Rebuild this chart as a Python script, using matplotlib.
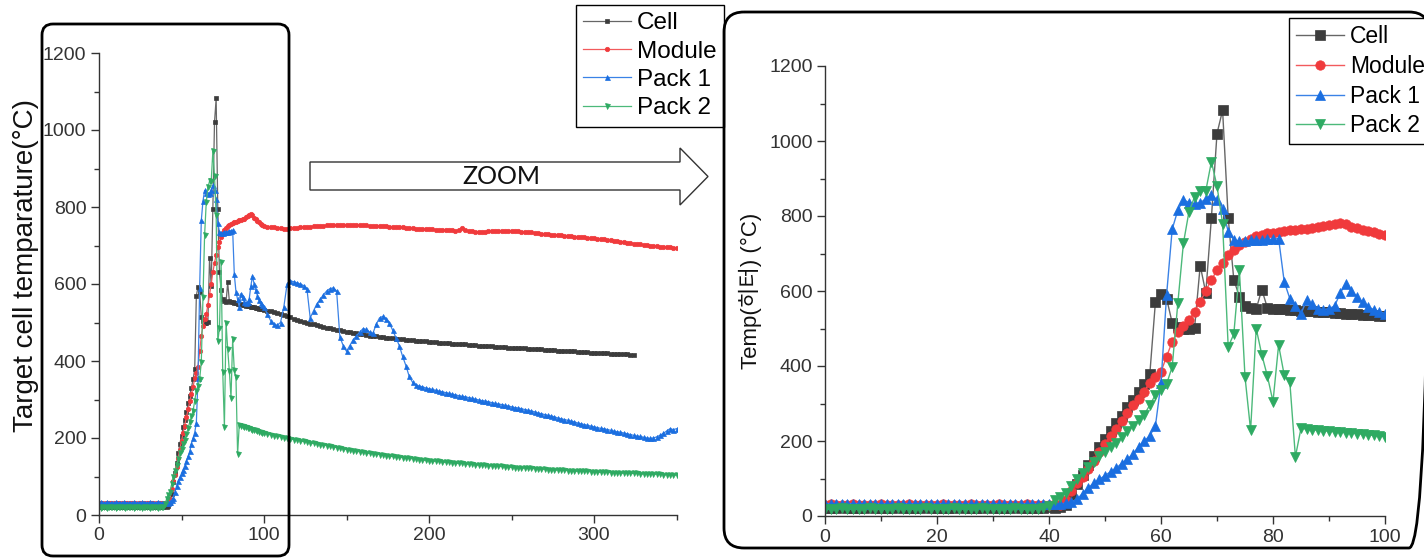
import numpy as np
import matplotlib
matplotlib.use('Agg')
import matplotlib.pyplot as plt
from matplotlib.patches import FancyBboxPatch, Polygon
from matplotlib.ticker import MultipleLocator

plt.rcParams['font.family'] = ['Liberation Sans', 'Noto Sans CJK KR', 'DejaVu Sans']

# ---------------- data ----------------
time_fine = np.arange(0, 101)          # 0..100 s, 1 s step
time_tail = np.arange(102, 351, 2)     # 102..350 s, 2 s step

series_names = ['Cell', 'Module', 'Pack 1', 'Pack 2']

cell_fine = [22, 21, 22, 23, 22, 21, 22, 22, 23, 22,
             21, 22, 22, 23, 22, 22, 21, 22, 23, 22,
             22, 21, 22, 22, 23, 22, 21, 22, 22, 23,
             22, 22, 21, 22, 23, 22, 22, 21, 22, 22,
             23, 22, 24,
             30, 55, 85, 110, 135, 160, 185, 205, 228, 248, 268, 290, 310, 330, 352, 378,
             570, 592, 580, 515, 505, 500, 500, 502, 668, 595, 795, 1020, 1082, 795, 630,
             585, 560, 556, 552, 604, 555, 553, 552, 551, 550, 549, 548, 547, 546, 545,
             544, 543, 542, 541, 540, 539, 538, 537, 536, 535, 534, 533]
cell_tail = [531, 529, 527, 525, 522, 519, 516, 513, 510, 507,
             504, 502, 499, 497, 495, 493, 491, 489, 487, 485,
             483, 481, 480, 478, 476, 475, 473, 472, 470, 469,
             468, 466, 465, 464, 463, 462, 461, 460, 459, 458,
             457, 456, 455, 455, 454, 453, 452, 451, 451, 450,
             449, 449, 448, 447, 447, 446, 445, 445, 444, 443,
             443, 442, 442, 441, 440, 440, 439, 439, 438, 437,
             437, 436, 436, 435, 435, 434, 434, 433, 433, 432,
             431, 431, 430, 430, 429, 429, 428, 428, 427, 427,
             426, 426, 425, 425, 424, 424, 423, 423, 422, 422,
             421, 421, 420, 420, 419, 419, 418, 418, 417, 417,
             416, 416]

module_fine = [30, 31, 30, 29, 30, 31, 30, 30, 29, 30,
               31, 30, 30, 29, 30, 31, 30, 30, 29, 30,
               30, 31, 30, 29, 30, 30, 31, 30, 29, 30,
               30, 31, 30, 30, 29, 30, 31, 30, 30, 29,
               30, 31, 30,
               42, 68, 88, 105, 125, 148, 170, 193, 213, 232, 254, 275, 295, 313, 332, 355,
               370, 385, 425, 465, 492, 508, 522, 545, 572, 600, 630, 655, 676, 695, 710,
               722, 732, 740, 746, 750, 754, 756, 758, 760, 762, 763, 765, 766, 768, 770,
               773, 776, 779, 782, 778, 772, 768, 764, 760, 757, 753, 750]
module_tail = [749, 748, 747, 746, 745, 744, 744, 745, 745, 746,
               747, 747, 748, 749, 750, 750, 751, 751, 752, 752,
               752, 753, 753, 753, 753, 753, 753, 752, 752, 752,
               752, 751, 751, 751, 751, 750, 750, 749, 748, 748,
               747, 747, 746, 745, 745, 744, 744, 743, 743, 743,
               742, 741, 741, 740, 740, 739, 739, 738, 741, 745,
               740, 737, 737, 736, 736, 736, 736, 737, 737, 737,
               737, 738, 738, 738, 738, 737, 737, 736, 736, 735,
               734, 733, 732, 731, 730, 729, 728, 727, 727, 726,
               725, 724, 724, 723, 722, 722, 721, 720, 720, 719,
               718, 717, 716, 714, 713, 712, 711, 710, 708, 707,
               706, 705, 704, 703, 702, 701, 700, 699, 698, 697,
               696, 695, 695, 694, 693]

pack1_fine = [32, 33, 32, 31, 32, 33, 32, 32, 31, 32,
              33, 32, 32, 31, 32, 33, 32, 32, 31, 32,
              32, 33, 32, 31, 32, 32, 33, 32, 31, 32,
              32, 33, 32, 32, 31, 32, 33, 32, 32, 31,
              32, 33, 32, 34,
              38, 45, 60, 75, 88, 98, 108, 118, 128, 140, 152, 165, 185, 200, 214, 240,
              355, 590, 765, 815, 843, 836, 833, 836, 845, 856, 843, 820, 758, 736, 733,
              733, 735, 735, 736, 738, 738, 740, 625, 580, 560, 540, 575, 565, 553, 550,
              553, 560, 594, 620, 600, 585, 570, 558, 550, 545, 540]
pack1_tail = [522, 505, 495, 493, 500, 540, 600, 608, 606, 603,
              600, 596, 588, 512, 530, 548, 560, 572, 582, 588,
              590, 582, 462, 440, 425, 440, 455, 465, 475, 484,
              482, 475, 472, 495, 512, 516, 510, 498, 480, 460,
              440, 412, 388, 360, 345, 338, 335, 333, 330, 328,
              326, 324, 322, 320, 318, 316, 314, 312, 310, 308,
              307, 305, 303, 301, 299, 297, 296, 294, 292, 290,
              288, 287, 285, 283, 281, 279, 278, 276, 274, 272,
              270, 268, 265, 263, 261, 259, 257, 255, 252, 250,
              248, 246, 244, 242, 239, 237, 235, 233, 231, 229,
              227, 225, 224, 222, 220, 218, 216, 215, 213, 211,
              209, 207, 205, 204, 202, 200, 199, 200, 203, 207,
              212, 218, 224, 222, 224]

pack2_fine = [20, 19, 20, 21, 20, 19, 20, 20, 21, 20,
              19, 20, 20, 21, 20, 20, 19, 20, 21, 20,
              20, 19, 20, 21, 20, 20, 19, 20, 21, 20,
              20, 19, 20, 20, 21, 20, 19, 20, 20, 22,
              28, 42, 52, 61, 80, 98, 115, 130, 145, 160, 172, 184, 196, 210, 226, 241,
              256, 270, 296, 323, 336, 352, 398, 567, 727, 812, 851, 867, 867, 945, 880,
              780, 451, 485, 656, 371, 229, 500, 430, 373, 305, 456, 376, 358, 158, 234,
              232, 230, 229, 228, 226, 225, 224, 222, 221, 220, 218, 216, 215, 213, 212]
pack2_tail = [210, 208, 206, 205, 203, 201, 200, 198, 196, 195,
              193, 191, 190, 188, 186, 185, 183, 182, 180, 178,
              177, 175, 174, 172, 170, 169, 167, 166, 164, 163,
              162, 160, 159, 158, 157, 156, 154, 153, 152, 151,
              150, 149, 148, 147, 146, 145, 144, 143, 142, 141,
              140, 140, 139, 138, 137, 137, 136, 135, 134, 134,
              133, 132, 132, 131, 130, 130, 129, 128, 128, 127,
              126, 126, 125, 125, 124, 123, 123, 122, 122, 121,
              121, 120, 120, 119, 119, 118, 118, 117, 117, 116,
              116, 115, 115, 114, 114, 114, 113, 113, 112, 112,
              112, 111, 111, 111, 110, 110, 110, 109, 109, 109,
              108, 108, 108, 107, 107, 107, 106, 106, 106, 106,
              105, 105, 105, 104, 104]

fine_data = [cell_fine, module_fine, pack1_fine, pack2_fine]
tail_data = [cell_tail, module_tail, pack1_tail, pack2_tail]

# ---------------- style ----------------
markers = ['s', 'o', '^', 'v']
mk_colors = ['#3c3c3c', '#f03a3c', '#1a6ee0', '#2eaa62']
ln_colors = ['#666666', '#f25a5c', '#3a82e6', '#4cb97a']
ms_left = [3.2, 3.2, 3.6, 3.6]
ms_right = [6.8, 6.8, 7.6, 7.6]

W, H = 1424, 560
fig = plt.figure(figsize=(W / 100, H / 100), dpi=100)

axL = fig.add_axes([99 / W, (H - 515) / H, (676.5 - 99) / W, (515 - 53) / H])
axR = fig.add_axes([825 / W, (H - 516) / H, 560 / W, 450 / H])

handlesL, handlesR = [], []
for i, name in enumerate(series_names):
    t_all = np.concatenate([time_fine, time_tail[:len(tail_data[i])]])
    v_all = np.concatenate([np.asarray(fine_data[i]), np.asarray(tail_data[i])])
    hL, = axL.plot(t_all, v_all, marker=markers[i], ms=ms_left[i], color=ln_colors[i],
                   mfc=mk_colors[i], mec=mk_colors[i], mew=0.5, lw=0.9, label=name)
    hR, = axR.plot(time_fine, fine_data[i], marker=markers[i], ms=ms_right[i], color=ln_colors[i],
                   mfc=mk_colors[i], mec=mk_colors[i], mew=0.5, lw=1.0, label=name)
    handlesL.append(hL)
    handlesR.append(hR)

for ax in (axL, axR):
    for s in ('top', 'right'):
        ax.spines[s].set_visible(False)
    for s in ('left', 'bottom'):
        ax.spines[s].set_color('#333333')
        ax.spines[s].set_linewidth(1.0)
    ax.set_ylim(0, 1200)
    ax.yaxis.set_major_locator(MultipleLocator(200))
    ax.yaxis.set_minor_locator(MultipleLocator(100))
    ax.tick_params(which='major', direction='out', length=6, width=1, labelsize=14,
                   colors='#333333', labelcolor='#333333', pad=3)
    ax.tick_params(which='minor', direction='out', length=3.5, width=1, colors='#333333')
    ax.set_facecolor('none')

axL.set_xlim(0, 350)
axL.xaxis.set_major_locator(MultipleLocator(100))
axL.xaxis.set_minor_locator(MultipleLocator(50))
axR.set_xlim(0, 100)
axR.xaxis.set_major_locator(MultipleLocator(20))
axR.xaxis.set_minor_locator(MultipleLocator(10))

axL.set_ylabel('Target cell temparature(°C)', fontsize=20, color='#111111')
axL.yaxis.set_label_coords(-0.104, 0.54)
axR.set_ylabel('Temp(히터) (°C)', fontsize=16, color='#111111')
axR.yaxis.set_label_coords(-0.112, 0.5)

legL = fig.legend(handlesL, series_names, loc='upper left',
                  bbox_to_anchor=(576 / W, 1 - 5 / H), bbox_transform=fig.transFigure,
                  frameon=True, fancybox=False, edgecolor='black', framealpha=1,
                  fontsize=17.5, handlelength=1.95, handletextpad=0.25, borderpad=0.3,
                  labelspacing=0.26, borderaxespad=0, numpoints=1)
legL.get_frame().set_linewidth(1.0)

legR = fig.legend(handlesR, series_names, loc='upper left',
                  bbox_to_anchor=(1289 / W, 1 - 18 / H), bbox_transform=fig.transFigure,
                  frameon=True, fancybox=False, edgecolor='black', framealpha=1,
                  fontsize=16.5, handlelength=2.1, handletextpad=0.25, borderpad=0.3,
                  labelspacing=0.3, borderaxespad=0, numpoints=1)
legR.get_frame().set_linewidth(1.0)

# ---------------- overlay (pixel coordinates) ----------------
ov = fig.add_axes([0, 0, 1, 1])
ov.set_xlim(0, W)
ov.set_ylim(H, 0)
ov.axis('off')
ov.set_zorder(10)
ov.patch.set_alpha(0)

ov.add_patch(FancyBboxPatch((42, 24), 247, 532, boxstyle='round,pad=0,rounding_size=11',
                            fill=False, edgecolor='black', linewidth=2.0))
ov.add_patch(FancyBboxPatch((724, 12), 705, 536, boxstyle='round,pad=0,rounding_size=20',
                            fill=False, edgecolor='black', linewidth=2.0, clip_on=False))

arrow_pts = [(310, 162), (680, 162), (680, 148), (708, 176.5), (680, 205), (680, 190), (310, 190)]
ov.add_patch(Polygon(arrow_pts, closed=True, facecolor='white', edgecolor='#333333', linewidth=1.0))
ov.text(501, 177, 'ZOOM', ha='center', va='center', fontsize=18, color='#111111', family='Lato')

fig.savefig('out.png', dpi=100)
